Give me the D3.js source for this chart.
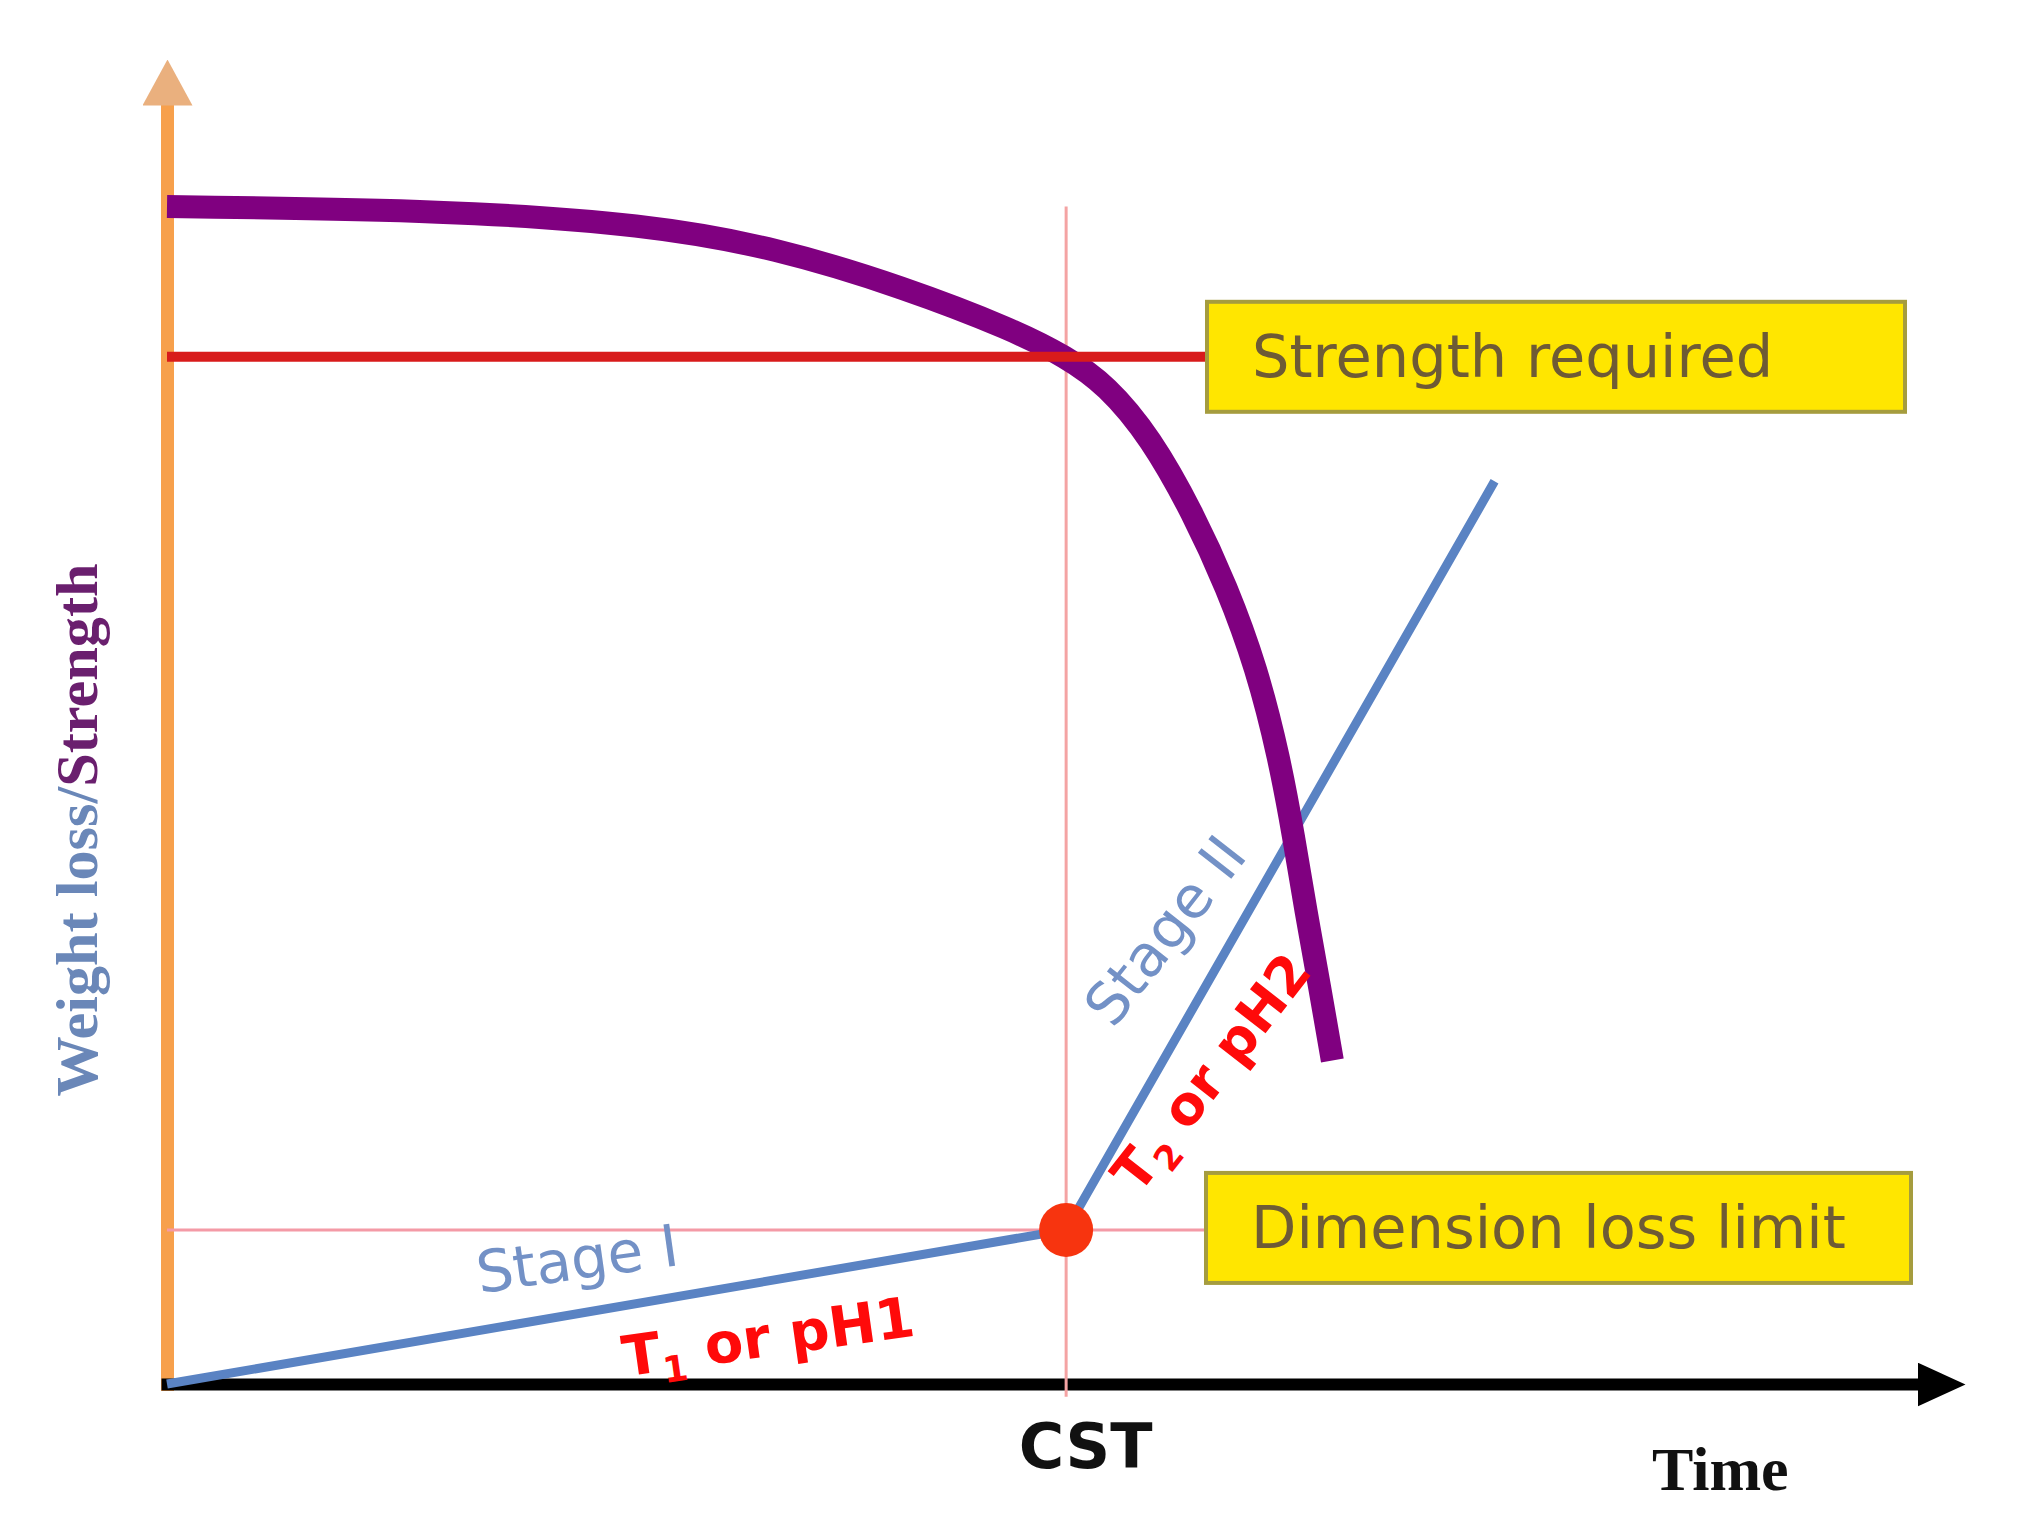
<!DOCTYPE html>
<html>
<head>
<meta charset="utf-8">
<script src="https://cdn.jsdelivr.net/npm/d3@7"></script>
<style>
  html, body { margin: 0; padding: 0; background: #fff; }
  svg { display: block; }
</style>
</head>
<body>
<svg id="chart" width="2026" height="1524"></svg>
<script>
// strength curve (time, strength)
var strengthTime = [0, 16.2, 27.2, 34.5, 41.8, 48.0, 51.0, 53.3, 55.8, 58.2, 60.1, 61.8, 63.1, 63.9, 64.6, 65.4, 66.1];
var strengthValue = [91.7, 91.4, 90.3, 88.5, 85.4, 82.1, 80.0, 77.8, 73.7, 67.8, 62.1, 55.8, 48.7, 42.7, 36.8, 30.8, 25.2];
// weight loss: stage I then stage II
var lossTime = [0, 51, 75.3];
var lossValue = [0, 12, 70.3];
var cstTime = 51;
var strengthRequired = 80;
var dimensionLimit = 12;
var xTickLabels = ["CST"];
var boxLabels = ["Strength required", "Dimension loss limit"];
var stageLabels = ["Stage I", "Stage II"];
var rateLabels = [["T", "1", " or pH1"], ["T", "2", " or pH2"]];

var svg = d3.select("#chart");
var x = d3.scaleLinear().domain([0, 100]).range([167, 1930]);
var y = d3.scaleLinear().domain([0, 100]).range([1384, 100]);

var defs = svg.append("defs");
defs.append("marker")
	.attr("id", "arrowX")
	.attr("markerUnits", "userSpaceOnUse")
	.attr("viewBox", "0 -22 48 44")
	.attr("markerWidth", 48)
	.attr("markerHeight", 44)
	.attr("refX", 13)
	.attr("refY", 0)
	.attr("orient", 0)
	.append("path")
	.attr("d", "M0,-22L48,0L0,22Z")
	.attr("fill", "#000");
defs.append("marker")
	.attr("id", "arrowY")
	.attr("markerUnits", "userSpaceOnUse")
	.attr("viewBox", "0 -25 46 50")
	.attr("markerWidth", 46)
	.attr("markerHeight", 50)
	.attr("refX", 5)
	.attr("refY", 0)
	.attr("orient", -90)
	.append("path")
	.attr("d", "M0,-25L46,0L0,25Z")
	.attr("fill", "#eab07e");

// y axis (orange, no ticks)
var gy = svg.append("g")
	.attr("transform", "translate(" + x(0) + ",0)")
	.call(d3.axisLeft(y).tickValues([]).tickSizeOuter(0));
gy.select(".domain")
	.attr("stroke", "#f7a04c")
	.attr("stroke-width", 13)
	.attr("stroke-linecap", "square")
	.attr("marker-end", "url(#arrowY)");

// x axis (black) with the CST tick
var gx = svg.append("g")
	.attr("transform", "translate(0," + y(0) + ")")
	.call(d3.axisBottom(x).tickValues([cstTime]).tickFormat(function(d, i) { return xTickLabels[i]; })
		.tickSize(0).tickPadding(40));
gx.select(".domain")
	.attr("stroke", "#000")
	.attr("stroke-width", 12)
	.attr("stroke-linecap", "square")
	.attr("marker-end", "url(#arrowX)");
gx.selectAll(".tick text")
	.attr("dx", 19)
	.attr("fill", "#111")
	.style("font-family", "'DejaVu Sans', sans-serif")
	.style("font-weight", "bold")
	.style("font-size", "62px");

// guide lines
svg.append("line")
	.attr("x1", x(0)).attr("x2", 1206)
	.attr("y1", y(dimensionLimit)).attr("y2", y(dimensionLimit))
	.attr("stroke", "#f49aa6").attr("stroke-width", 3);
svg.append("line")
	.attr("x1", x(cstTime)).attr("x2", x(cstTime))
	.attr("y1", y(-1)).attr("y2", y(strengthValue[0]))
	.attr("stroke", "#f4a3a3").attr("stroke-width", 3);

// weight loss line
var lossLine = d3.line()
	.x(function(d, i) { return x(lossTime[i]); })
	.y(function(d) { return y(d); });
svg.append("path")
	.attr("d", lossLine(lossValue))
	.attr("fill", "none")
	.attr("stroke", "#5a83c3")
	.attr("stroke-width", 9)
	.attr("stroke-linejoin", "round");

// strength curve
var strengthLine = d3.line()
	.x(function(d, i) { return x(strengthTime[i]); })
	.y(function(d) { return y(d); })
	.curve(d3.curveBasis);
svg.append("path")
	.attr("d", strengthLine(strengthValue))
	.attr("fill", "none")
	.attr("stroke", "#800080")
	.attr("stroke-width", 23);

// strength required line
svg.append("line")
	.attr("x1", x(0)).attr("x2", 1207)
	.attr("y1", y(strengthRequired)).attr("y2", y(strengthRequired))
	.attr("stroke", "#d81b1b").attr("stroke-width", 10);

svg.append("circle")
	.attr("cx", x(cstTime)).attr("cy", y(dimensionLimit))
	.attr("r", 27)
	.attr("fill", "#f7340f");

// label boxes
var boxes = [
	{ text: boxLabels[0], left: 1207, width: 698, cy: y(strengthRequired) },
	{ text: boxLabels[1], left: 1206, width: 705, cy: y(dimensionLimit) - 2 }
];
boxes.forEach(function(b) {
	svg.append("rect")
		.attr("x", b.left).attr("y", b.cy - 55)
		.attr("width", b.width).attr("height", 110)
		.attr("fill", "#ffe600")
		.attr("stroke", "#a59c3e")
		.attr("stroke-width", 4);
	svg.append("text")
		.attr("x", b.left + 45).attr("y", b.cy + 20)
		.attr("fill", "#6e5b35")
		.style("font-family", "'DejaVu Sans', sans-serif")
		.style("font-size", "59px")
		.text(b.text);
});

// stage labels
function stageText(label, tx, ty, angle) {
	svg.append("text")
		.attr("transform", "translate(" + tx + "," + ty + ") rotate(" + angle + ")")
		.attr("text-anchor", "middle")
		.attr("fill", "#7391c6")
		.style("font-family", "'DejaVu Sans', sans-serif")
		.style("font-size", "58px")
		.text(label);
}
function rateText(parts, tx, ty, angle, size) {
	var t = svg.append("text")
		.attr("transform", "translate(" + tx + "," + ty + ") rotate(" + angle + ")")
		.attr("text-anchor", "middle")
		.attr("fill", "#ff0a0a")
		.style("font-family", "'DejaVu Sans', sans-serif")
		.style("font-weight", "bold")
		.style("font-size", size + "px");
	t.append("tspan").text(parts[0]);
	t.append("tspan").attr("dy", 12).style("font-size", Math.round(size * 0.64) + "px").text(parts[1]);
	t.append("tspan").attr("dy", -12).text(parts[2]);
}
stageText(stageLabels[0], 580, 1279, -8);
rateText(rateLabels[0], 771, 1356, -8, 56);
stageText(stageLabels[1], 1181, 943, -52);
rateText(rateLabels[1], 1226, 1084, -52, 54);

// axis titles
svg.append("text")
	.attr("x", 1652).attr("y", 1490)
	.attr("fill", "#111")
	.style("font-family", "'Liberation Serif', serif")
	.style("font-weight", "bold")
	.style("font-size", "62px")
	.text("Time");

var yTitle = svg.append("text")
	.attr("transform", "translate(97,830) rotate(-90)")
	.attr("text-anchor", "middle")
	.attr("textLength", 533)
	.attr("lengthAdjust", "spacingAndGlyphs")
	.style("font-family", "'Liberation Serif', serif")
	.style("font-weight", "bold")
	.style("font-size", "60px");
yTitle.append("tspan").attr("fill", "#6a87b8").text("Weight loss/");
yTitle.append("tspan").attr("fill", "#6a1f6e").text("Strength");
</script>
</body>
</html>
